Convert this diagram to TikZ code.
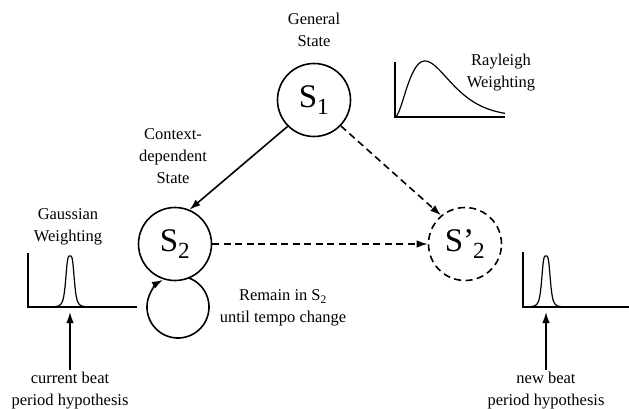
\documentclass[tikz,border=0pt]{standalone}
\usepackage{fontspec}
\setmainfont{Liberation Serif}
\usetikzlibrary{arrows.meta}

\begin{document}
\begin{tikzpicture}[x=1pt, y=1pt,
		>={Latex[length=11pt,width=7.5pt]},
		state/.style={circle, draw, line width=1.6pt, minimum size=73pt, inner sep=0pt, font=\fontsize{33}{33}\selectfont},
		txt/.style={align=center, inner sep=2pt, font=\fontsize{16.5}{22}\selectfont},
		axisline/.style={line width=1.5pt},
		plotline/.style={line width=1.2pt},
		dashline/.style={dash pattern=on 7pt off 4.5pt, line width=1.6pt}]
		\useasboundingbox (0,0) rectangle (629,-409);

		% states
		\node[state] (s1) at (314,-100) {S\textsubscript{1}};
		\node[state] (s2) at (175,-244) {S\textsubscript{2}};
		\node[state, dashline] (s2p) at (465,-244) {S'\kern-1pt\textsubscript{2}};

		% labels
		\node[txt] (gen) at (314,-30) {General\\State};
		\node[txt] (ctx) at (173,-156) {Context-\\dependent\\State};
		\node[txt] (gauss) at (68,-227) {Gaussian\\Weighting};
		\node[txt] (rayl) at (501,-73) {Rayleigh\\Weighting};
		\node[txt] (remain) at (283,-308) {Remain in S\textsubscript{2}\\until tempo change};
		\node[txt] (cur) at (70,-391) {current beat\\period hypothesis};
		\node[txt] (new) at (546,-391) {new beat\\period hypothesis};

		% transitions
		\draw[->, line width=1.6pt] (s1.225) -- (s2.67);
		\draw[->, dashline] (s1.-44) -- (s2p.130);
		\draw[->, dashline] (s2) -- (s2p);
		\coordinate (loopc) at (178,-307);
		\draw[->, line width=1.6pt] ([shift={(70:31)}]loopc) arc[start angle=70, end angle=-241, radius=31];

		% weighting curves
		\draw[axisline] (395,-62) -- (395,-117) -- (505,-117);
		\draw[plotline] plot[domain=0:3.67, samples=80, smooth] ({395+30*\x}, {-117+56*\x*\x*exp(2*(1-\x))});
		\draw[axisline] (28,-253) -- (28,-307) -- (137,-307);
		\draw[plotline] plot[domain=-17:17, samples=81, smooth] ({70+\x}, {-307+51/(1+(\x*\x/20.25)*(\x*\x/20.25))});
		\draw[axisline] (523,-252) -- (523,-307) -- (629,-307);
		\draw[plotline] plot[domain=-17:17, samples=81, smooth] ({546+\x}, {-307+51/(1+(\x*\x/20.25)*(\x*\x/20.25))});

		% hypotheses
		\coordinate (gtip) at (70,-312);
		\coordinate (ntip) at (546,-312);
		\draw[->, line width=1.6pt] (cur.north) -- (gtip);
		\draw[->, line width=1.6pt] (new.north) -- (ntip);
	\end{tikzpicture}
\end{document}
